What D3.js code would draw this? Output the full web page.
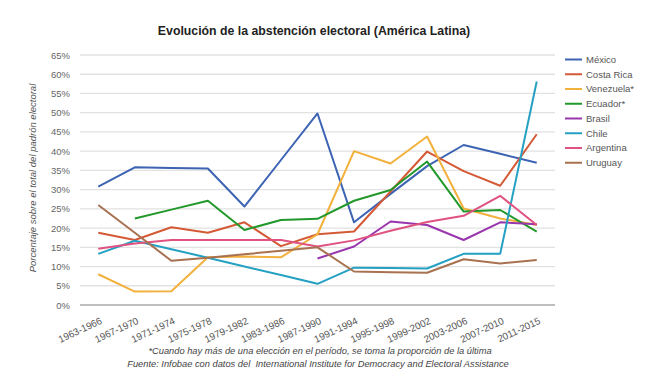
<!DOCTYPE html>
<html>
<head>
<meta charset="utf-8">
<script src="https://cdn.jsdelivr.net/npm/d3@7"></script>
<style>
  body { margin: 0; background: #fff; }
  text { font-family: "Liberation Sans", Arial, sans-serif; }
</style>
</head>
<body>
<div id="chart"></div>
<script>
var periods = ['1963-1966', '1967-1970', '1971-1974', '1975-1978', '1979-1982', '1983-1986',
    '1987-1990', '1991-1994', '1995-1998', '1999-2002', '2003-2006', '2007-2010', '2011-2015'];

var yTicks = [0, 5, 10, 15, 20, 25, 30, 35, 40, 45, 50, 55, 60, 65];

var countries = ['México', 'Costa Rica', 'Venezuela*', 'Ecuador*', 'Brasil', 'Chile', 'Argentina', 'Uruguay'];
var colors = ['#3d63b3', '#d45a36', '#f2b03c', '#22982a', '#9a36ad', '#24a0c2', '#e0527f', '#a8714f'];

var mexico    = [30.8, 35.8, 35.6, 35.5, 25.6, 37.7, 49.8, 21.5, 28.9, 36.1, 41.6, 39.3, 37.0];
var costaRica = [18.8, 16.9, 20.2, 18.8, 21.5, 15.3, 18.4, 19.1, 29.5, 39.9, 34.8, 31.0, 44.4];
var venezuela = [8.0, 3.5, 3.6, 12.4, 12.6, 12.4, 18.4, 40.0, 36.8, 43.8, 25.1, 22.5, 20.8];
var ecuador   = [null, 22.5, 24.8, 27.1, 19.5, 22.1, 22.4, 27.1, 29.9, 37.3, 24.3, 24.7, 19.1];
var brasil    = [null, null, null, null, null, null, 12.1, 15.2, 21.7, 20.8, 16.9, 21.5, 21.0];
var chile     = [13.3, 16.7, 14.5, 12.3, 10.0, 7.8, 5.5, 9.7, 9.6, 9.5, 13.3, 13.3, 58.1];
var argentina = [14.6, 16.0, 16.9, 16.9, 16.9, 16.9, 15.2, 16.8, 19.3, 21.6, 23.2, 28.4, 20.8];
var uruguay   = [26.0, 18.8, 11.5, 12.3, 13.2, 14.1, 15.0, 8.7, 8.5, 8.4, 11.9, 10.8, 11.7];

var series = [mexico, costaRica, venezuela, ecuador, brasil, chile, argentina, uruguay];

var width = 649, height = 383;

var svg = d3.select("#chart").append("svg")
    .attr("width", width)
    .attr("height", height);

var x = d3.scaleBand()
    .domain(periods)
    .range([80, 555]);

var y = d3.scaleLinear()
    .domain([0, 65])
    .range([305, 55]);

// title
svg.append("text")
    .attr("x", 314)
    .attr("y", 35)
    .attr("text-anchor", "middle")
    .attr("font-size", "12.3px")
    .attr("font-weight", "bold")
    .attr("fill", "#222")
    .text("Evolución de la abstención electoral (América Latina)");

// grid lines
svg.append("g")
    .selectAll("line")
    .data(yTicks)
    .enter().append("line")
    .attr("x1", 80)
    .attr("x2", 555)
    .attr("y1", function (d) { return y(d); })
    .attr("y2", function (d) { return y(d); })
    .attr("stroke", function (d) { return d == 0 ? "#a8a8a8" : "#e2e2e2"; })
    .attr("stroke-width", 1.3);

// y axis labels
var yAxis = d3.axisLeft(y)
    .tickValues(yTicks)
    .tickSize(0)
    .tickPadding(0)
    .tickFormat(function (d) { return d + "%"; });

var gy = svg.append("g")
    .attr("transform", "translate(70,0)")
    .call(yAxis);
gy.select(".domain").remove();
gy.selectAll("text")
    .attr("font-family", "Liberation Sans, Arial, sans-serif")
    .attr("font-size", "9.5px")
    .attr("fill", "#666");

svg.append("text")
    .attr("transform", "translate(36,178) rotate(-90)")
    .attr("text-anchor", "middle")
    .attr("font-size", "9.5px")
    .attr("font-style", "italic")
    .attr("fill", "#555")
    .text("Porcentaje sobre el total del padrón electoral");

// x axis labels
var xAxis = d3.axisBottom(x).tickSize(0).tickPadding(0);
var gx = svg.append("g")
    .attr("transform", "translate(0,305)")
    .call(xAxis);
gx.select(".domain").remove();
gx.selectAll("text")
    .attr("font-family", "Liberation Sans, Arial, sans-serif")
    .attr("font-size", "9.8px")
    .attr("fill", "#555")
    .attr("text-anchor", "end")
    .attr("dy", "0.35em")
    .attr("transform", "translate(3,15) rotate(-25)");

// lines
var line = d3.line()
    .defined(function (d) { return d != null; })
    .x(function (d, i) { return x(periods[i]) + x.bandwidth() / 2; })
    .y(function (d) { return y(d); });

svg.append("g")
    .selectAll("path")
    .data(series)
    .enter().append("path")
    .attr("d", line)
    .attr("fill", "none")
    .attr("stroke", function (d, i) { return colors[i]; })
    .attr("stroke-width", 2)
    .attr("stroke-linejoin", "round");

// legend
var legend = svg.append("g")
    .selectAll("g")
    .data(countries)
    .enter().append("g")
    .attr("transform", function (d, i) { return "translate(565," + (59.5 + i * 14.75) + ")"; });

legend.append("line")
    .attr("x1", 0)
    .attr("x2", 17)
    .attr("stroke", function (d, i) { return colors[i]; })
    .attr("stroke-width", 2);

legend.append("text")
    .attr("x", 21)
    .attr("dy", "0.35em")
    .attr("font-size", "9.5px")
    .attr("fill", "#555")
    .text(function (d) { return d; });

// footnotes
svg.append("text")
    .attr("x", 320)
    .attr("y", 354)
    .attr("text-anchor", "middle")
    .attr("font-size", "9.3px")
    .attr("font-style", "italic")
    .attr("fill", "#444")
    .text("*Cuando hay más de una elección en el período, se toma la proporción de la última");

svg.append("text")
    .attr("x", 318)
    .attr("y", 367)
    .attr("text-anchor", "middle")
    .attr("font-size", "9.3px")
    .attr("font-style", "italic")
    .attr("fill", "#444")
    .style("white-space", "pre")
    .text("Fuente: Infobae con datos del  International Institute for Democracy and Electoral Assistance");
</script>
</body>
</html>
